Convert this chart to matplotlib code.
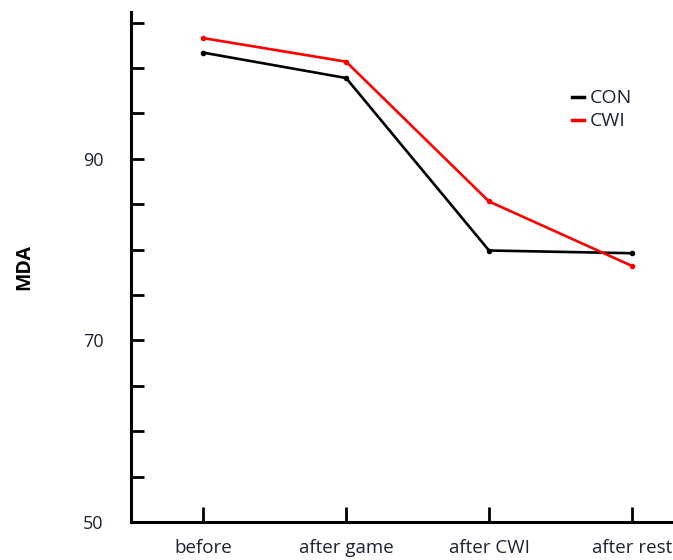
import matplotlib
matplotlib.use("Agg")
import matplotlib.pyplot as plt

plt.rcParams['font.family'] = ['Open Sans', 'DejaVu Sans']

stages = ["before", "after game", "after CWI", "after rest"]
con = [101.7, 98.9, 79.9, 79.6]
cwi = [103.3, 100.7, 85.3, 78.2]

text_col = "#1c2233"

fig = plt.figure(figsize=(6.73, 5.6), dpi=100)
ax = fig.add_axes([0.195, 0.068, 0.805, 0.911])

x = list(range(len(stages)))
ax.plot(x, con, color="black", lw=1.9, marker="o", ms=3, label="CON")
ax.plot(x, cwi, color="#ff0000", lw=1.9, marker="o", ms=3, label="CWI")

ax.set_xlim(-0.503, 3.287)
ax.set_ylim(50, 106.2)
ax.set_xticks(x)
ax.set_xticklabels(stages)
ax.set_yticks([50, 70, 90])
ax.set_yticks([55, 60, 65, 75, 80, 85, 95, 100, 105], minor=True)

for s in ["top", "right"]:
    ax.spines[s].set_visible(False)
for s in ["left", "bottom"]:
    ax.spines[s].set_linewidth(2.2)

ax.tick_params(axis="y", which="both", direction="in", length=9, width=2,
               labelsize=13, labelcolor=text_col, pad=20)
ax.tick_params(axis="x", direction="in", length=11, width=2,
               labelsize=13.5, labelcolor=text_col, pad=12)

ax.set_ylabel("MDA", fontsize=14, fontweight="bold", labelpad=35)

leg = ax.legend(loc="upper left", bbox_to_anchor=(0.782, 0.882), frameon=False,
                handlelength=0.6, handletextpad=0.3, labelspacing=0.25,
                fontsize=14, labelcolor=text_col)
for h in leg.legend_handles:
    h.set_marker("")
    h.set_linewidth(2.5)

fig.savefig("out.png", dpi=100)
